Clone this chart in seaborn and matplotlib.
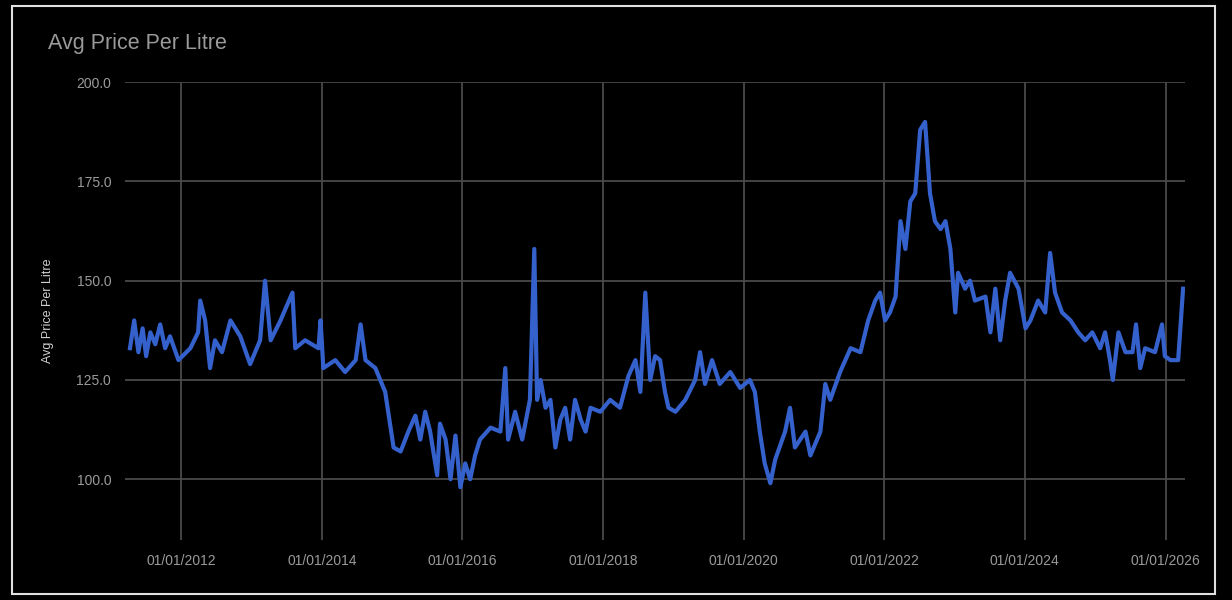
import matplotlib
matplotlib.use("Agg")
import matplotlib.pyplot as plt
import matplotlib.dates as mdates
import matplotlib.patches as mpatches
import seaborn as sns
import pandas as pd
import numpy as np

years = [2011.27,2011.33,2011.39,2011.45,2011.50,2011.56,2011.63,2011.70,2011.77,2011.84,
 2011.96,2012.13,2012.24,2012.27,2012.34,2012.41,2012.48,2012.58,2012.70,2012.84,2012.98,2013.12,2013.19,2013.27,2013.41,2013.58,2013.62,2013.76,2013.95,2013.98,2014.02,2014.19,2014.33,2014.48,2014.55,2014.62,2014.76,2014.90,2015.02,2015.12,2015.23,2015.33,2015.40,2015.47,2015.54,2015.64,2015.68,2015.76,2015.83,2015.90,2015.97,2016.04,2016.11,2016.18,2016.25,2016.40,2016.54,2016.61,2016.65,2016.75,2016.85,2016.96,2017.02,2017.06,2017.11,2017.18,2017.25,2017.32,2017.39,2017.46,2017.53,2017.60,2017.68,2017.75,2017.82,2017.96,2018.10,2018.24,2018.36,2018.46,2018.53,2018.60,2018.67,2018.74,2018.81,2018.88,2018.93,2019.03,2019.17,2019.31,2019.38,2019.45,2019.55,2019.66,2019.81,2019.95,2020.09,2020.16,2020.23,2020.30,2020.38,2020.45,2020.59,2020.66,2020.73,2020.88,2020.95,2021.09,2021.16,2021.23,2021.37,2021.52,2021.66,2021.77,2021.87,2021.94,2022.01,2022.08,2022.16,2022.23,2022.30,2022.37,2022.44,2022.51,2022.58,2022.65,2022.72,2022.80,2022.87,2022.94,2023.01,2023.05,2023.15,2023.22,2023.29,2023.44,2023.51,2023.58,2023.65,2023.72,2023.79,2023.91,2024.01,2024.08,2024.19,2024.29,2024.36,2024.43,2024.53,2024.65,2024.76,2024.86,2024.96,2025.07,2025.14,2025.21,2025.25,2025.33,2025.43,2025.53,2025.58,2025.64,2025.71,2025.85,2025.95,2025.99,2026.07,2026.18,2026.25]
prices = [133,140,132,138,131,137,134,139,133,136,
 130,133,137,145,140,128,135,132,140,136,129,135,150,135,140,147,133,135,133,140,128,130,127,130,139,130,128,122,108,107,112,116,110,117,112,101,114,110,100,111,98,104,100,106,110,113,112,128,110,117,110,120,158,120,125,118,120,108,115,118,110,120,115,112,118,117,120,118,126,130,122,147,125,131,130,122,118,117,120,125,132,124,130,124,127,123,125,122,112,104,99,105,112,118,108,112,106,112,124,120,127,133,132,140,145,147,140,142,146,165,158,170,172,188,190,172,165,163,165,158,142,152,148,150,145,146,137,148,135,145,152,148,138,140,145,142,157,147,142,140,137,135,137,133,137,130,125,137,132,132,139,128,133,132,139,131,130,130,148]
yticks = [100, 125, 150, 175, 200]
xtick_years = [2012, 2014, 2016, 2018, 2020, 2022, 2024, 2026]

plt.rcParams['font.family'] = ['Liberation Sans', 'DejaVu Sans']

def to_date(y):
    yr = int(np.floor(y))
    start = pd.Timestamp(year=yr, month=1, day=1)
    return start + pd.Timedelta(days=(y - yr) * 365.25)

n = min(len(years), len(prices))
df = pd.DataFrame({"date": [to_date(y) for y in years[:n]], "price": prices[:n]})

fig = plt.figure(figsize=(12.32, 6), dpi=100, facecolor="black")
ax = fig.add_axes([0.1015, 0.1, 0.8605, 0.763])
ax.set_facecolor("black")
sns.lineplot(data=df, x="date", y="price", ax=ax, color="#3561cc", linewidth=3)

ax.set_ylim(84.7, 200)
ax.set_xlim(to_date(2011.2), to_date(2026.28))
ax.set_yticks(yticks)
ax.set_yticklabels([f"{v:.1f}" for v in yticks])
ax.set_xticks([pd.Timestamp(year=y, month=1, day=1) for y in xtick_years])
ax.xaxis.set_major_formatter(mdates.DateFormatter("%d/%m/%Y"))
ax.grid(True, color="#4a4a4a", linewidth=1.3)
ax.set_axisbelow(True)
for s in ax.spines.values():
    s.set_visible(False)
ax.tick_params(colors="#9a9a9a", labelsize=10, length=0, pad=10)
ax.set_xlabel("")
ax.set_ylabel("Avg Price Per Litre", color="#d0d0d0", fontsize=9, labelpad=16)

fig.text(48/1232, 1 - 43/600, "Avg Price Per Litre", color="#9a9a9a", fontsize=15.5, va="center", ha="left")
fig.patches.append(mpatches.Rectangle((12/1232, 6/600), 1203/1232, 588/600, transform=fig.transFigure,
                                      fill=False, edgecolor="#e0e0e0", linewidth=1.5))
fig.savefig("out.png", dpi=100, facecolor="black")
